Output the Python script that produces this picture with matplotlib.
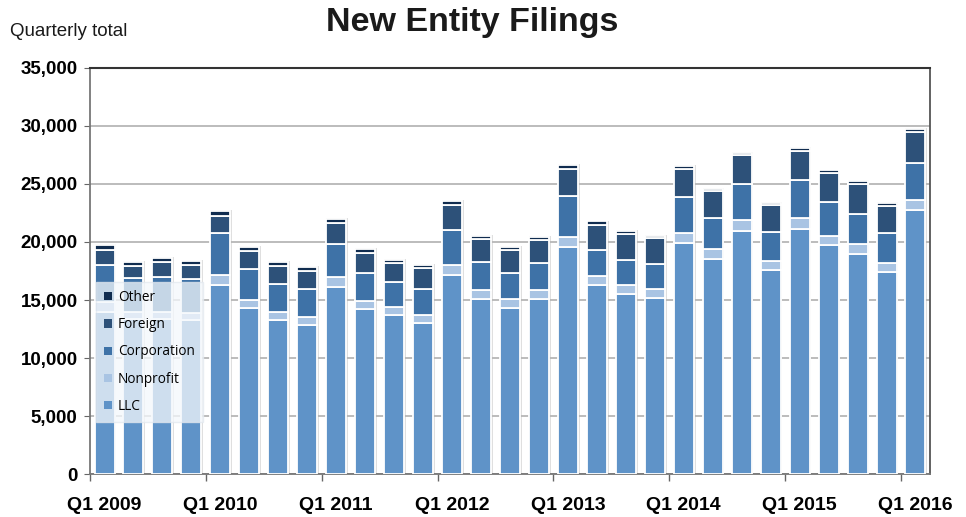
import matplotlib
matplotlib.use("Agg")
import matplotlib.pyplot as plt
from matplotlib.patches import Patch
import numpy as np

quarters = ["Q1 2009", "Q2 2009", "Q3 2009", "Q4 2009",
            "Q1 2010", "Q2 2010", "Q3 2010", "Q4 2010",
            "Q1 2011", "Q2 2011", "Q3 2011", "Q4 2011",
            "Q1 2012", "Q2 2012", "Q3 2012", "Q4 2012",
            "Q1 2013", "Q2 2013", "Q3 2013", "Q4 2013",
            "Q1 2014", "Q2 2014", "Q3 2014", "Q4 2014",
            "Q1 2015", "Q2 2015", "Q3 2015", "Q4 2015",
            "Q1 2016"]

llc = [14000, 13400, 13400, 13300, 16280, 14290, 13310, 12820,
       16080, 14200, 13680, 12990, 17150, 15070, 14290, 15100,
       19570, 16280, 15530, 15160, 19890, 18530, 20960, 17550,
       21130, 19720, 18960, 17410, 22710]
nonprofit = [800, 600, 600, 600, 870, 690, 630, 750,
             860, 720, 720, 750, 860, 810, 810, 720,
             810, 750, 780, 750, 920, 840, 950, 810,
             920, 830, 840, 780, 890]
corporation = [3200, 2900, 3000, 2900, 3610, 2690, 2430, 2360,
               2890, 2400, 2170, 2190, 3030, 2420, 2190, 2370,
               3580, 2310, 2140, 2190, 3030, 2680, 3110, 2510,
               3270, 2910, 2630, 2570, 3210]
foreign = [1300, 1000, 1300, 1200, 1470, 1530, 1560, 1590,
           1790, 1710, 1620, 1800, 2140, 1940, 2050, 1960,
           2340, 2140, 2250, 2250, 2460, 2310, 2430, 2280,
           2540, 2460, 2540, 2340, 2670]
other = [450, 400, 350, 400, 460, 400, 340, 320,
         380, 370, 280, 310, 350, 280, 230, 260,
         350, 280, 260, 200, 260, 230, 230, 230,
         250, 230, 260, 260, 260]

series_names = ["LLC", "Nonprofit", "Corporation", "Foreign", "Other"]
series_vals = [llc, nonprofit, corporation, foreign, other]
colors = ["#5f93c8", "#a9c4e3", "#3e72a7", "#2d5179", "#102c4f"]

y_ticks = [0, 5000, 10000, 15000, 20000, 25000, 30000, 35000]

narrow = ["Liberation Sans Narrow", "Liberation Sans", "DejaVu Sans"]

fig = plt.figure(figsize=(9.66, 5.17), dpi=100)
ax = fig.add_axes([0.0932, 0.0826, 0.8695, 0.7866])

x = np.arange(len(quarters))
width = 0.69
totals = np.sum(np.array(series_vals), axis=0)

# subtle shadow behind each stack
ax.bar(x + 0.03, totals + 60, width=width + 0.06, bottom=0,
       color="#b8b8b8", alpha=0.45, zorder=2, linewidth=0)

bottom = np.zeros(len(quarters))
for name, vals, c in zip(series_names, series_vals, colors):
    v = np.array(vals, dtype=float)
    ax.bar(x, v, width=width, bottom=bottom, color=c, edgecolor="white",
           linewidth=1.3, zorder=3, label=name)
    bottom += v

ax.set_xlim(-0.5, len(quarters) - 0.5)
ax.set_ylim(0, 35000)
ax.set_yticks(y_ticks)
ax.set_yticklabels([f"{t:,}" for t in y_ticks], fontfamily=narrow,
                   fontweight="bold", fontsize=13.5)
ax.yaxis.grid(True, color="#b0b0b0", linewidth=1.2, zorder=0)
ax.set_axisbelow(True)

# x ticks at year boundaries, labels at Q1 bars
year_bounds = np.arange(-0.5, len(quarters), 4)
ax.set_xticks(year_bounds)
ax.set_xticklabels([])
ax.tick_params(axis="x", length=5, width=1, color="#666666", direction="out")
ax.set_xticks(x[::4], minor=True)
ax.set_xticklabels([quarters[i] for i in range(0, len(quarters), 4)],
                   minor=True, fontfamily=narrow, fontweight="bold", fontsize=14)
ax.tick_params(axis="x", which="minor", length=0, pad=16)
ax.tick_params(axis="y", length=4, color="#666666", pad=5)

for side in ["left", "bottom"]:
    ax.spines[side].set_color("#777777")
    ax.spines[side].set_linewidth(1.3)
ax.spines["top"].set_color("#333333")
ax.spines["top"].set_linewidth(1.5)
ax.spines["right"].set_color("#555555")
ax.spines["right"].set_linewidth(1.3)

handles = [Patch(facecolor=c, edgecolor="none") for c in colors][::-1]
labels = series_names[::-1]
leg = ax.legend(handles, labels, loc="upper left",
                bbox_to_anchor=(-0.001, 0.49), frameon=True, fancybox=False,
                framealpha=0.75, facecolor="#f4f8fc", edgecolor="#e2e8ef",
                prop={"family": ["Open Sans", "DejaVu Sans"], "size": 9.8},
                handlelength=0.55, handleheight=0.55, handletextpad=0.45,
                labelspacing=0.9, borderpad=0.6)
leg.set_zorder(5)

fig.text(0.489, 0.957, "New Entity Filings", ha="center", va="center",
         fontsize=24.5, fontweight="bold", fontfamily=["Liberation Sans", "DejaVu Sans"],
         color="#1a1a1a")
fig.text(0.010, 0.940, "Quarterly total", ha="left", va="center",
         fontsize=13.5, fontfamily=narrow, color="#1a1a1a")

fig.savefig("out.png", dpi=100)
